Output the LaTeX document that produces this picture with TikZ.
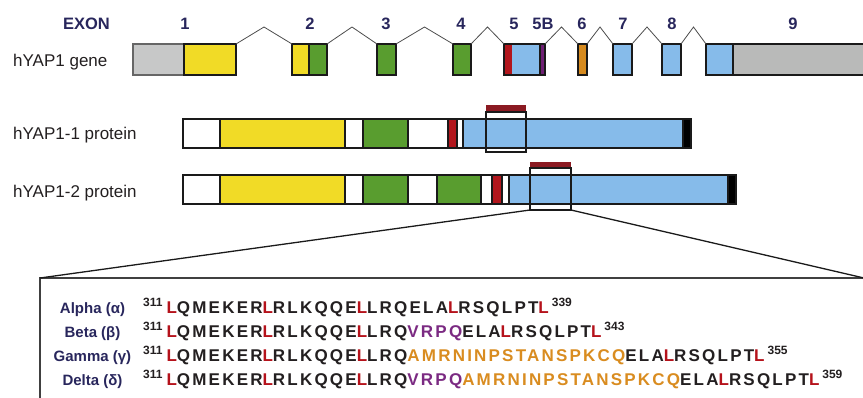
\documentclass[tikz,border=0pt]{standalone}
\usepackage{fontspec}
\setmainfont{Liberation Sans}
\newfontfamily\seqfont{Liberation Sans}[LetterSpace=13]
\usepackage{xcolor}
\usetikzlibrary{calc}

\definecolor{boxline}{HTML}{1A1A1A}
\definecolor{utrgrey}{HTML}{C7C8C8}
\definecolor{utrgrey2}{HTML}{B9BAB9}
\definecolor{yel}{HTML}{F1DB26}
\definecolor{grn}{HTML}{599D2F}
\definecolor{blu}{HTML}{86BBEA}
\definecolor{redx}{HTML}{B2161D}
\definecolor{purx}{HTML}{6F1F74}
\definecolor{orax}{HTML}{D68A1E}
\definecolor{barred}{HTML}{8B1A22}
\definecolor{navy}{HTML}{28265C}
\definecolor{inkc}{HTML}{231F20}
\definecolor{seqred}{HTML}{B5121B}
\definecolor{seqpur}{HTML}{7B2A82}
\definecolor{seqora}{HTML}{D98C20}

% residues that are coloured in the alignment
\newcommand{\Lr}{\textcolor{seqred}{L}}
\newcommand{\VRPQ}{\textcolor{seqpur}{VRPQ}}
\newcommand{\AMRN}{\textcolor{seqora}{AMRNINPSTANSPKCQ}}
\newcommand{\resnum}[1]{\raisebox{6.5pt}{\normalfont\bfseries\fontsize{12}{12}\selectfont #1}}

\begin{document}
\begin{tikzpicture}[x=1pt,y=-1pt,
  seg/.style={draw=boxline,line width=1.6pt,inner sep=0pt,outer sep=0pt,anchor=north west},
  generow/.style={seg,minimum height=31pt},
  protrow/.style={seg,minimum height=29pt},
  intron/.style={draw=black!70,line width=0.8pt},
  lbl/.style={inner sep=0pt,font=\fontsize{17}{17}\selectfont,text=inkc,anchor=base west},
  exonnum/.style={inner sep=0pt,font=\bfseries\fontsize{16.5}{16.5}\selectfont,text=navy,anchor=base},
  zoomframe/.style={draw=boxline,line width=1.3pt,inner sep=0pt,outer sep=0pt,anchor=north west},
  bar/.style={fill=barred,inner sep=0pt,outer sep=0pt,anchor=north west},
  zoomline/.style={draw=boxline,line width=1.3pt},
  isolbl/.style={inner sep=0pt,font=\bfseries\fontsize{15}{15}\selectfont,text=navy,anchor=base},
  seqrow/.style={inner sep=0pt,font=\seqfont\bfseries\fontsize{17}{17}\selectfont,text=inkc,anchor=base west}
]
\useasboundingbox (0,0) rectangle (863,397);

% gene
\node[lbl] (genelbl) at (13,66) {hYAP1 gene};
\node[exonnum,anchor=base east] (exonhd) at (110,29) {EXON};
\foreach \t/\x in {1/185,2/310,3/386,4/461,5/514,5B/543,6/582,7/623,8/672,9/793}
  \node[exonnum] (n\t) at (\x,29) {\t};

\node[generow,fill=utrgrey,draw=black!60,minimum width=51pt] (e1u) at (133,44) {};
\node[generow,fill=yel,minimum width=52pt] (e1) at (184,44) {};
\node[generow,fill=yel,minimum width=17pt] (e2a) at (292,44) {};
\node[generow,fill=grn,minimum width=18pt] (e2) at (309,44) {};
\node[generow,fill=grn,minimum width=19pt] (e3) at (377,44) {};
\node[generow,fill=grn,minimum width=18pt] (e4) at (453,44) {};
\node[generow,fill=redx,draw=none,minimum width=8pt] (e5r) at (504,44) {};
\node[generow,fill=blu,draw=none,minimum width=28pt] (e5b) at (512,44) {};
\node[generow,fill=purx,minimum width=5pt] (e5p) at (540,44) {};
\node[generow,minimum width=41pt] (e5) at (504,44) {};
\node[generow,fill=orax,minimum width=9pt] (e6) at (578,44) {};
\node[generow,fill=blu,minimum width=19pt] (e7) at (613,44) {};
\node[generow,fill=blu,minimum width=19pt] (e8) at (662,44) {};
\node[generow,fill=blu,minimum width=27pt] (e9) at (706,44) {};
\node[generow,fill=utrgrey2,minimum width=140pt] (e9u) at (733,44) {};

\foreach \a/\b in {e1/e2a,e2/e3,e3/e4,e4/e5,e5/e6,e6/e7,e7/e8,e8/e9}
  \draw[intron] (\a.north east) -- ($(\a.north east)!0.5!(\b.north west)+(0,-17)$) -- (\b.north west);

% proteins
\node[lbl] (p1lbl) at (13,139) {hYAP1-1 protein};
\node[lbl] (p2lbl) at (13,197) {hYAP1-2 protein};

\foreach \s/\e/\c [count=\i] in {183/220/white,220/345/yel,345/363/white,363/408/grn,408/448/white,
    448/457/redx,457/463/white,463/683/blu,683/691/black}
  \node[protrow,fill=\c,minimum width={(\e-\s)*1pt}] (pa\i) at (\s,119) {};

\foreach \s/\e/\c [count=\i] in {183/220/white,220/345/yel,345/363/white,363/408/grn,408/437/white,
    437/481/grn,481/492/white,492/502/redx,502/509/white,509/728/blu,728/736/black}
  \node[protrow,fill=\c,minimum width={(\e-\s)*1pt}] (pb\i) at (\s,175) {};

\node[bar,minimum width=40pt,minimum height=7pt] (zb1) at (486,105) {};
\node[zoomframe,minimum width=40pt,minimum height=40pt] (z1) at (486,112) {};
\node[bar,minimum width=41pt,minimum height=6pt] (zb2) at (530,162) {};
\node[zoomframe,minimum width=41pt,minimum height=42pt] (z2) at (530,168) {};

% alignment
\node[zoomframe,draw=black!75,line width=1.2pt,minimum width=824pt,minimum height=140pt] (seqbox) at (40,278) {};
\draw[zoomline] (z2.south west) -- (seqbox.north west);
\draw[zoomline] (z2.south east) -- (seqbox.north east);

\node[isolbl] (la) at (92.5,313) {Alpha (α)};
\node[isolbl] (lb) at (92.5,337) {Beta (β)};
\node[isolbl] (lg) at (92.5,361) {Gamma (γ)};
\node[isolbl] (ld) at (92.5,385) {Delta (δ)};

\node[seqrow] (sa) at (143,313) {\resnum{311}\hspace{4pt}\Lr QMEKER\Lr RLKQQE\Lr LRQELA\Lr RSQLPT\Lr\hspace{3pt}\resnum{339}};
\node[seqrow] (sb) at (143,337) {\resnum{311}\hspace{4pt}\Lr QMEKER\Lr RLKQQE\Lr LRQ\VRPQ ELA\Lr RSQLPT\Lr\hspace{3pt}\resnum{343}};
\node[seqrow] (sg) at (143,361) {\resnum{311}\hspace{4pt}\Lr QMEKER\Lr RLKQQE\Lr LRQ\AMRN ELA\Lr RSQLPT\Lr\hspace{3pt}\resnum{355}};
\node[seqrow] (sd) at (143,385) {\resnum{311}\hspace{4pt}\Lr QMEKER\Lr RLKQQE\Lr LRQ\VRPQ\AMRN ELA\Lr RSQLPT\Lr\hspace{3pt}\resnum{359}};
\end{tikzpicture}
\end{document}
